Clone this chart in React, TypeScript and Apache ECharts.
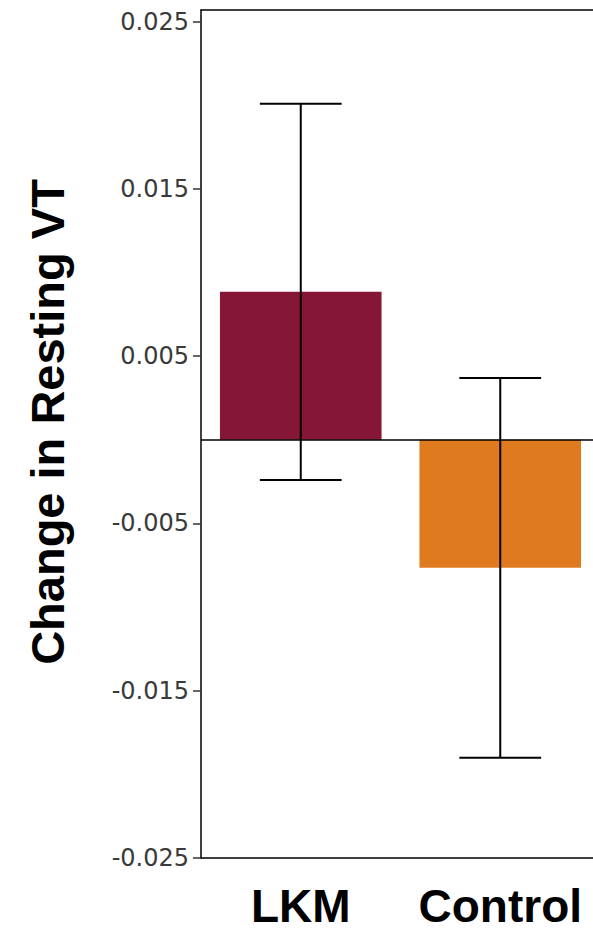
import React, { useEffect, useRef } from "react";
import * as echarts from "echarts";

const CATEGORIES = ["LKM", "Control"];
const MEANS = [0.00885, -0.00765];
const ERR_LOW = [-0.0024, -0.019];
const ERR_HIGH = [0.0201, 0.0037];
const BAR_COLORS = ["#861636", "#E07A1F"];
const Y_TICKS = [-0.025, -0.015, -0.005, 0.005, 0.015, 0.025];
const Y_TITLE = "Change in Resting VT";

export default function App() {
  const ref = useRef<HTMLDivElement>(null);
  useEffect(() => {
    if (!ref.current) return;
    const chart = echarts.init(ref.current, undefined, { renderer: "svg" });
    const errData = CATEGORIES.map((c, i) => [i, ERR_LOW[i], ERR_HIGH[i]]);
    chart.setOption({
      animation: false,
      backgroundColor: "#ffffff",
      grid: {
        left: 201,
        top: 10,
        width: 399,
        height: 848,
        show: false,
        outerBoundsMode: "none",
      },
      xAxis: [
        {
          type: "category",
          data: CATEGORIES,
          position: "bottom",
          axisLine: { show: true, onZero: false, lineStyle: { color: "#000", width: 1.5 } },
          axisTick: { show: false },
          axisLabel: {
            interval: 0,
            hideOverlap: false,
            margin: 28,
            lineHeight: 40,
            fontFamily: "Liberation Sans, Arial, sans-serif",
            fontWeight: "bold",
            fontSize: 46,
            color: "#000",
          },
          splitLine: { show: false },
        },
        {
          type: "category",
          data: CATEGORIES,
          position: "top",
          axisLine: { show: true, onZero: false, lineStyle: { color: "#000", width: 1.5 } },
          axisTick: { show: false },
          axisLabel: { show: false },
          splitLine: { show: false },
        },
      ],
      yAxis: {
        type: "value",
        min: -0.025,
        max: 0.0257,
        axisLine: { show: true, lineStyle: { color: "#000", width: 1.5 } },
        axisTick: {
          show: true,
          length: 8,
          customValues: Y_TICKS,
          lineStyle: { color: "#333", width: 1.5 },
        },
        axisLabel: {
          customValues: Y_TICKS,
          margin: 12,
          fontFamily: "DejaVu Sans, sans-serif",
          fontSize: 24,
          color: "#3a3a3a",
          formatter: (v: number) => v.toFixed(3),
        },
        splitLine: { show: false },
      },
      graphic: [
        {
          type: "text",
          x: 47,
          y: 422,
          rotation: Math.PI / 2,
          style: {
            text: Y_TITLE,
            fontFamily: "Liberation Sans, Arial, sans-serif",
            fontWeight: "bold",
            fontSize: 47,
            fill: "#000",
            align: "center",
            verticalAlign: "middle",
          },
        },
      ],
      series: [
        {
          type: "bar",
          xAxisIndex: 0,
          data: MEANS.map((v, i) => ({ value: v, itemStyle: { color: BAR_COLORS[i] } })),
          barWidth: "81%",
          markLine: {
            silent: true,
            symbol: "none",
            label: { show: false },
            lineStyle: { color: "#000", width: 1.5, type: "solid" },
            data: [{ yAxis: 0 }],
          },
          z: 2,
        },
        {
          type: "custom",
          xAxisIndex: 0,
          data: errData,
          z: 5,
          renderItem: (params: any, api: any) => {
            const x = api.value(0);
            const lo = api.coord([x, api.value(1)]);
            const hi = api.coord([x, api.value(2)]);
            const bw = api.size([1, 0])[0];
            const hw = bw * 0.205;
            const style = { stroke: "#000", lineWidth: 2 };
            return {
              type: "group",
              children: [
                { type: "line", shape: { x1: lo[0], y1: lo[1], x2: hi[0], y2: hi[1] }, style },
                { type: "line", shape: { x1: lo[0] - hw, y1: lo[1], x2: lo[0] + hw, y2: lo[1] }, style },
                { type: "line", shape: { x1: hi[0] - hw, y1: hi[1], x2: hi[0] + hw, y2: hi[1] }, style },
              ],
            };
          },
        },
      ],
    });
    return () => chart.dispose();
  }, []);
  return (
    <div
      style={{ position: "absolute", left: 0, top: 0, width: 593, height: 929, overflow: "hidden" }}
    >
      <div ref={ref} style={{ width: 700, height: 929 }} />
    </div>
  );
}
